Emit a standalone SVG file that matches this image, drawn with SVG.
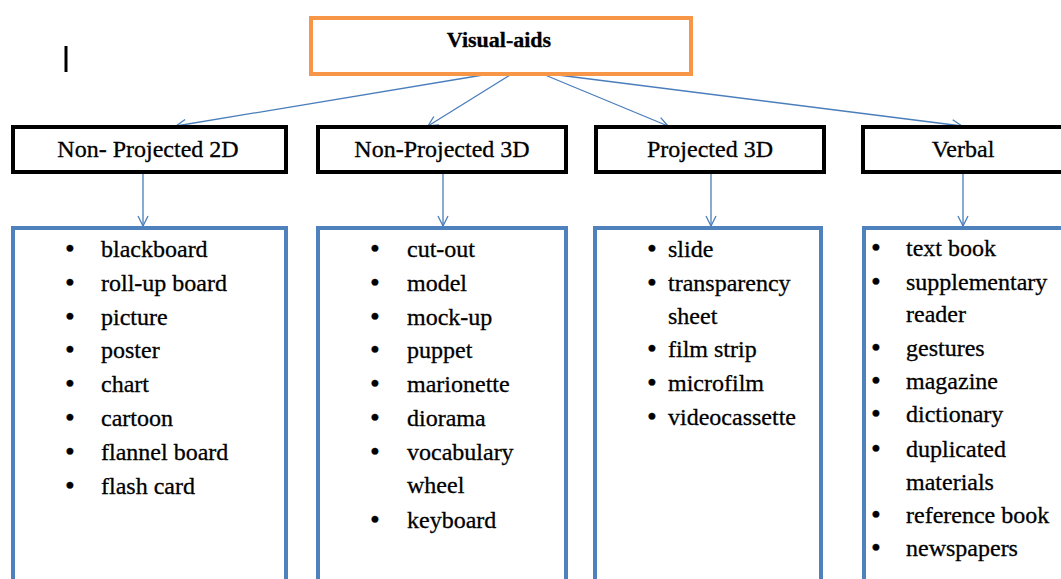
<svg xmlns="http://www.w3.org/2000/svg" width="1061" height="579" viewBox="0 0 1061 579">
  <style>
    .root { fill: #ffffff; stroke: #F79646; stroke-width: 4; }
    .cat { fill: #ffffff; stroke: #000000; stroke-width: 4; }
    .list { fill: #ffffff; stroke: #4F81BD; stroke-width: 4; }
    .conn { fill: none; stroke: #4A7EBB; stroke-width: 1.3; }
    text { font-family: 'Liberation Serif', 'DejaVu Serif', serif; fill: #000; stroke: #000; stroke-width: 0.3; }
    .title { font-size: 22px; font-weight: bold; text-anchor: middle; }
    .label { font-size: 24px; text-anchor: middle; }
    .item text { font-size: 24px; }
    .item .b { font-size: 28px; }
  </style>
  <defs>
    <marker id="arrow" markerWidth="12" markerHeight="12" refX="11" refY="6" orient="auto" markerUnits="userSpaceOnUse">
      <path d="M1,1 L11,6 L1,11" fill="none" stroke="#4A7EBB" stroke-width="1.3"/>
    </marker>
  </defs>
  <rect width="1061" height="579" fill="#ffffff"/>

  <!-- stray cursor mark -->
  <line x1="66" y1="46" x2="66" y2="72" stroke="#000" stroke-width="3"/>

  <!-- connectors -->
  <g id="connectors">
    <line class="conn" x1="483" y1="75" x2="176" y2="126" marker-end="url(#arrow)"/>
    <line class="conn" x1="510" y1="75" x2="428" y2="126" marker-end="url(#arrow)"/>
    <line class="conn" x1="545" y1="75" x2="668" y2="126" marker-end="url(#arrow)"/>
    <line class="conn" x1="558" y1="75" x2="962" y2="126" marker-end="url(#arrow)"/>
    <line class="conn" x1="143" y1="173" x2="143" y2="226" marker-end="url(#arrow)"/>
    <line class="conn" x1="443" y1="173" x2="443" y2="226" marker-end="url(#arrow)"/>
    <line class="conn" x1="711" y1="173" x2="711" y2="226" marker-end="url(#arrow)"/>
    <line class="conn" x1="963" y1="173" x2="963" y2="226" marker-end="url(#arrow)"/>
  </g>

  <!-- root -->
  <g id="visual-aids">
    <rect class="root" x="311" y="18" width="380" height="56"/>
    <text class="title" x="499" y="47">Visual-aids</text>
  </g>

  <!-- categories -->
  <g id="non-projected-2d">
    <rect class="cat" x="13" y="127" width="273" height="45"/>
    <text class="label" x="148" y="157">Non- Projected 2D</text>
  </g>
  <g id="non-projected-3d">
    <rect class="cat" x="318" y="127" width="248" height="45"/>
    <text class="label" x="442" y="157">Non-Projected 3D</text>
  </g>
  <g id="projected-3d">
    <rect class="cat" x="596" y="127" width="228" height="45"/>
    <text class="label" x="710" y="157">Projected 3D</text>
  </g>
  <g id="verbal">
    <rect class="cat" x="863" y="127" width="210" height="45"/>
    <text class="label" x="963" y="157">Verbal</text>
  </g>

  <!-- item lists -->
  <g id="list-2d">
    <rect class="list" x="13" y="228" width="273" height="380"/>
    <g class="item">
      <text class="b" x="65" y="258">•</text><text x="101" y="257">blackboard</text>
      <text class="b" x="65" y="292">•</text><text x="101" y="291">roll-up board</text>
      <text class="b" x="65" y="326">•</text><text x="101" y="325">picture</text>
      <text class="b" x="65" y="359">•</text><text x="101" y="358">poster</text>
      <text class="b" x="65" y="393">•</text><text x="101" y="392">chart</text>
      <text class="b" x="65" y="427">•</text><text x="101" y="426">cartoon</text>
      <text class="b" x="65" y="461">•</text><text x="101" y="460">flannel board</text>
      <text class="b" x="65" y="495">•</text><text x="101" y="494">flash card</text>
    </g>
  </g>
  <g id="list-3d">
    <rect class="list" x="318" y="228" width="248" height="380"/>
    <g class="item">
      <text class="b" x="370" y="258">•</text><text x="407" y="257">cut-out</text>
      <text class="b" x="370" y="292">•</text><text x="407" y="291">model</text>
      <text class="b" x="370" y="326">•</text><text x="407" y="325">mock-up</text>
      <text class="b" x="370" y="359">•</text><text x="407" y="358">puppet</text>
      <text class="b" x="370" y="393">•</text><text x="407" y="392">marionette</text>
      <text class="b" x="370" y="427">•</text><text x="407" y="426">diorama</text>
      <text class="b" x="370" y="461">•</text><text x="407" y="460">vocabulary</text>
      <text x="407" y="493">wheel</text>
      <text class="b" x="370" y="529">•</text><text x="407" y="528">keyboard</text>
    </g>
  </g>
  <g id="list-projected">
    <rect class="list" x="595" y="228" width="226" height="380"/>
    <g class="item">
      <text class="b" x="647" y="258">•</text><text x="668" y="257">slide</text>
      <text class="b" x="647" y="292">•</text><text x="668" y="291">transparency</text>
      <text x="668" y="324">sheet</text>
      <text class="b" x="647" y="358">•</text><text x="668" y="357">film strip</text>
      <text class="b" x="647" y="392">•</text><text x="668" y="391">microfilm</text>
      <text class="b" x="647" y="426">•</text><text x="668" y="425">videocassette</text>
    </g>
  </g>
  <g id="list-verbal">
    <rect class="list" x="864" y="228" width="210" height="380"/>
    <g class="item">
      <text class="b" x="871" y="257">•</text><text x="906" y="256">text book</text>
      <text class="b" x="871" y="291">•</text><text x="906" y="290">supplementary</text>
      <text x="906" y="322">reader</text>
      <text class="b" x="871" y="357">•</text><text x="906" y="356">gestures</text>
      <text class="b" x="871" y="390">•</text><text x="906" y="389">magazine</text>
      <text class="b" x="871" y="423">•</text><text x="906" y="422">dictionary</text>
      <text class="b" x="871" y="458">•</text><text x="906" y="457">duplicated</text>
      <text x="906" y="490">materials</text>
      <text class="b" x="871" y="524">•</text><text x="906" y="523">reference book</text>
      <text class="b" x="871" y="557">•</text><text x="906" y="556">newspapers</text>
    </g>
  </g>
</svg>
